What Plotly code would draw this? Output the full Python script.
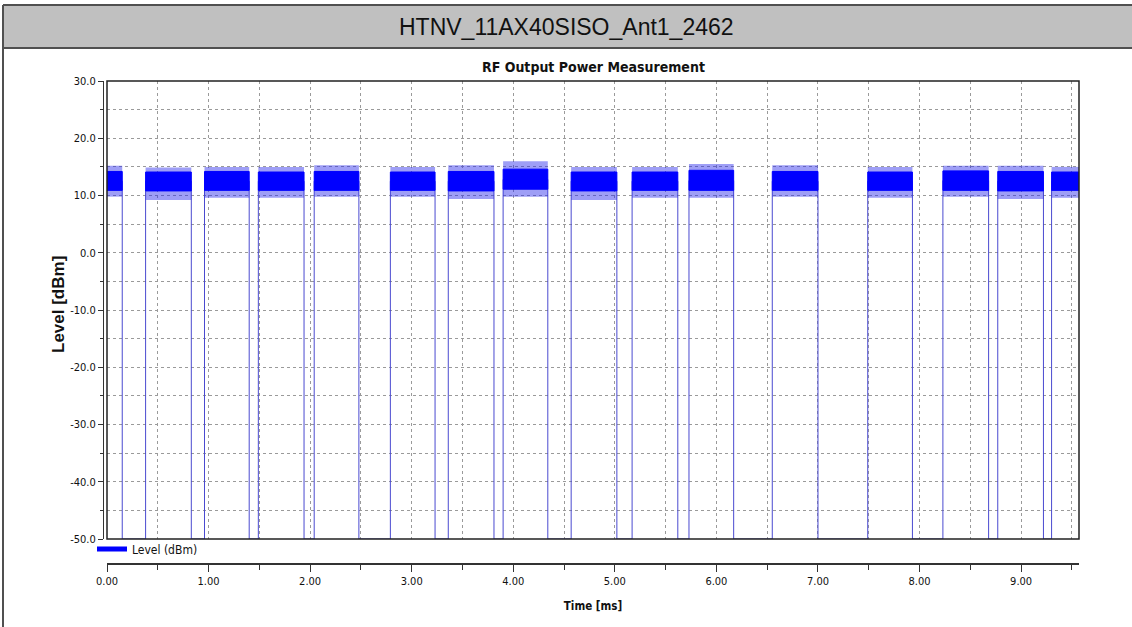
import plotly.graph_objects as go

# ---------------- data ----------------
burst_start_ms = [0.00, 0.38, 0.96, 1.49, 2.04, 2.79, 3.36, 3.90, 4.57, 5.17, 5.73, 6.55, 7.49, 8.23, 8.77, 9.30]
burst_end_ms   = [0.15, 0.83, 1.40, 1.94, 2.48, 3.23, 3.81, 4.34, 5.02, 5.62, 6.17, 7.00, 7.93, 8.68, 9.22, 9.57]
burst_level_dbm = [12.5, 12.5, 12.5, 12.5, 12.5, 12.5, 12.5, 12.8, 12.5, 12.5, 12.6, 12.5, 12.5, 12.6, 12.5, 12.5]
# dense core of the noisy burst
burst_low_dbm   = [10.9, 10.8, 10.9, 10.9, 10.9, 10.9, 10.8, 11.1, 10.8, 10.9, 10.9, 10.9, 10.9, 10.9, 10.8, 10.9]
burst_high_dbm  = [14.2, 14.1, 14.2, 14.1, 14.2, 14.1, 14.2, 14.6, 14.1, 14.1, 14.4, 14.2, 14.1, 14.3, 14.2, 14.1]
# spike extremes of each burst
burst_min_dbm   = [9.8, 9.2, 9.6, 9.6, 9.8, 9.8, 9.4, 9.8, 9.2, 9.6, 9.6, 9.8, 9.6, 9.8, 9.4, 9.6]
burst_max_dbm   = [15.2, 14.9, 15.0, 15.0, 15.3, 15.0, 15.3, 16.0, 15.0, 15.0, 15.5, 15.3, 15.0, 15.2, 15.2, 15.0]
floor_dbm = -50.0
x_range = [0.0, 9.57]
y_range = [-50.0, 30.0]

y_tick_vals = [30, 20, 10, 0, -10, -20, -30, -40, -50]
y_tick_text = ["30.0", "20.0", "10.0", "0.0", "-10.0", "-20.0", "-30.0", "-40.0", "-50.0"]
x_tick_vals = [0, 1, 2, 3, 4, 5, 6, 7, 8, 9]
x_tick_text = ["0.00", "1.00", "2.00", "3.00", "4.00", "5.00", "6.00", "7.00", "8.00", "9.00"]

header_text = "HTNV_11AX40SISO_Ant1_2462"
chart_title = "RF Output Power Measurement"
y_title = "Level [dBm]"
x_title = "Time [ms]"
series_name = "Level (dBm)"

# ---------------- layout geometry (pixels) ----------------
W, H = 1132, 627
L_PX, R_PX, T_PX, B_PX = 103, 1079, 81, 564   # paper box


def px_x(px):
    return (px - L_PX) / (R_PX - L_PX)


def px_y(py):
    return (B_PX - py) / (B_PX - T_PX)


NARROW = "Liberation Sans Narrow, Arial Narrow, DejaVu Sans Condensed, Liberation Sans, Arial, sans-serif"
REG = "Liberation Sans, Arial, sans-serif"
BLUE = "#0000ff"
EDGE = "#4a4ad0"

fig = go.Figure()

# envelope trace (floor + rising/falling edges)
ex, ey = [], []
for s, e, lv in zip(burst_start_ms, burst_end_ms, burst_level_dbm):
    if s > x_range[0]:
        ex += [s, s]
        ey += [floor_dbm, lv]
    else:
        ex += [s]
        ey += [lv]
    if e < x_range[1]:
        ex += [e, e]
        ey += [lv, floor_dbm]
    else:
        ex += [e]
        ey += [lv]
fig.add_trace(go.Scatter(x=ex, y=ey, mode="lines", line=dict(color=EDGE, width=1),
                         showlegend=False, hoverinfo="skip"))

# spike envelope of each burst (lighter)
for s, e, lo, hi in zip(burst_start_ms, burst_end_ms, burst_min_dbm, burst_max_dbm):
    fig.add_trace(go.Scatter(x=[s, e, e, s, s], y=[lo, lo, hi, hi, lo], mode="lines",
                             fill="toself", fillcolor="rgba(40,40,235,0.45)", line=dict(width=0),
                             showlegend=False, hoverinfo="skip"))
# dense core of each burst
for s, e, lo, hi in zip(burst_start_ms, burst_end_ms, burst_low_dbm, burst_high_dbm):
    fig.add_trace(go.Scatter(x=[s, e, e, s, s], y=[lo, lo, hi, hi, lo], mode="lines",
                             fill="toself", fillcolor=BLUE, line=dict(color=BLUE, width=1),
                             showlegend=False, hoverinfo="skip"))

# legend entry
fig.add_trace(go.Scatter(x=[None], y=[None], mode="lines", line=dict(color=BLUE, width=5),
                         name=series_name, showlegend=True))
# dummy trace for bottom time axis
fig.add_trace(go.Scatter(x=[None], y=[None], xaxis="x2", yaxis="y", showlegend=False))

dom_x = [px_x(107), 1.0]
dom_y = [px_y(539), 1.0]
grid_col = "#9a9a9a"

fig.update_layout(
    width=W, height=H,
    margin=dict(l=L_PX, r=W - R_PX, t=T_PX, b=H - B_PX, pad=0),
    paper_bgcolor="white", plot_bgcolor="white",
    font=dict(family=NARROW, size=11, color="#111111"),
    xaxis=dict(domain=dom_x, range=x_range, showticklabels=False, ticks="",
               showgrid=True, dtick=0.5, tick0=0, gridcolor=grid_col, griddash="3px,3px",
               gridwidth=1, zeroline=False, showline=False),
    xaxis2=dict(domain=dom_x, range=x_range, overlaying="x", anchor="free", position=0,
                tickmode="array", tickvals=x_tick_vals, ticktext=x_tick_text,
                ticks="outside", ticklen=7, tickcolor="#333333", tickwidth=1,
                minor=dict(dtick=0.5, tick0=0, ticks="outside", ticklen=5, tickcolor="#333333", showgrid=False),
                showline=True, linecolor="#333333", linewidth=1.5, showgrid=False, zeroline=False,
                tickfont=dict(family=NARROW, size=11, color="#111111"),
                title=dict(text="<b>" + x_title + "</b>", font=dict(family=NARROW, size=11.5, color="#111111"),
                           standoff=14)),
    yaxis=dict(domain=dom_y, range=y_range, anchor="free", position=0,
               tickmode="array", tickvals=y_tick_vals, ticktext=y_tick_text,
               ticks="outside", ticklen=5, tickcolor="#333333",
               minor=dict(dtick=5, tick0=0, ticks="outside", ticklen=3, tickcolor="#333333",
                          showgrid=True, gridcolor=grid_col, griddash="3px,3px", gridwidth=1),
               showgrid=True, gridcolor=grid_col, griddash="3px,3px", gridwidth=1,
               showline=True, linecolor="#333333", linewidth=1, zeroline=False,
               tickfont=dict(family=NARROW, size=11, color="#111111")),
    showlegend=True,
    legend=dict(orientation="h", x=px_x(92), y=px_y(549), xanchor="left", yanchor="middle",
                bgcolor="rgba(0,0,0,0)", font=dict(family=NARROW, size=12, color="#111111"),
                itemwidth=30, tracegroupgap=0),
)

shapes = [
    # plot frame
    dict(type="rect", xref="x domain", yref="y domain", x0=0, x1=1, y0=0, y1=1,
         line=dict(color="#222222", width=1.5), layer="above"),
    # header band
    dict(type="rect", xref="paper", yref="paper", x0=px_x(3), x1=px_x(1133), y0=px_y(48), y1=px_y(5),
         fillcolor="#c0c0c0", line=dict(width=0), layer="below"),
    dict(type="line", xref="paper", yref="paper", x0=px_x(3), x1=px_x(1133), y0=px_y(5), y1=px_y(5),
         line=dict(color="#505050", width=2)),
    dict(type="line", xref="paper", yref="paper", x0=px_x(3), x1=px_x(1133), y0=px_y(48), y1=px_y(48),
         line=dict(color="#505050", width=2)),
    dict(type="line", xref="paper", yref="paper", x0=px_x(3), x1=px_x(3), y0=px_y(5), y1=px_y(628),
         line=dict(color="#505050", width=2)),
]
fig.update_layout(shapes=shapes)

fig.add_annotation(text=header_text, xref="paper", yref="paper", x=px_x(566), y=px_y(27),
                   showarrow=False, xanchor="center", yanchor="middle",
                   font=dict(family=REG, size=23, color="#111111"))
fig.add_annotation(text="<b>" + chart_title + "</b>", xref="paper", yref="paper", x=px_x(593), y=px_y(67),
                   showarrow=False, xanchor="center", yanchor="middle",
                   font=dict(family=NARROW, size=14, color="#111111"))
fig.add_annotation(text="<b>" + y_title + "</b>", xref="paper", yref="paper", x=px_x(58), y=px_y(305),
                   showarrow=False, xanchor="center", yanchor="middle", textangle=-90,
                   font=dict(family=REG, size=17, color="#111111"))

fig.write_html("out.html", config={"displayModeBar": False},
               post_script="document.body.style.margin='0';document.body.style.overflow='hidden';")
